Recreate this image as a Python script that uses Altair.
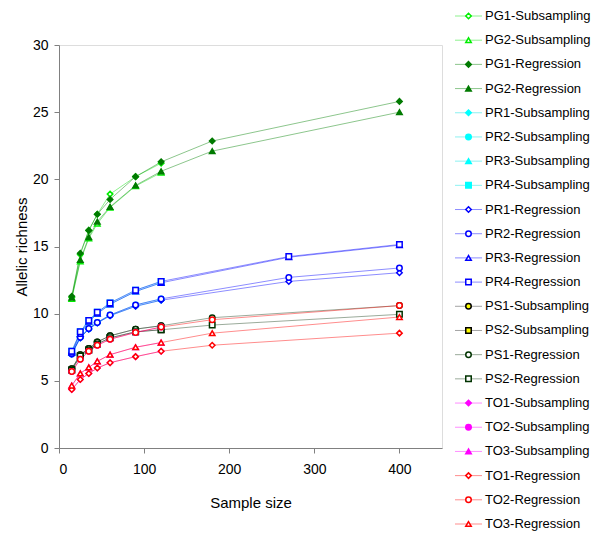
import altair as alt
import pandas as pd

# ---- data ----
series_names = [
    "PG1-Subsampling", "PG2-Subsampling", "PG1-Regression", "PG2-Regression",
    "PR1-Subsampling", "PR2-Subsampling", "PR3-Subsampling", "PR4-Subsampling",
    "PR1-Regression", "PR2-Regression", "PR3-Regression", "PR4-Regression",
    "PS1-Subsampling", "PS2-Subsampling", "PS1-Regression", "PS2-Regression",
    "TO1-Subsampling", "TO2-Subsampling", "TO3-Subsampling",
    "TO1-Regression", "TO2-Regression", "TO3-Regression",
]

x_sub = [15, 25, 35, 45, 60, 90, 120]
x_reg_pg = [15, 25, 35, 45, 60, 90, 120, 180, 400]
x_reg_pr = [15, 25, 35, 45, 60, 90, 120, 270, 400]
x_reg_ps = [15, 25, 35, 45, 60, 90, 120, 180, 400]
x_reg_to = [15, 25, 35, 45, 60, 90, 120, 180, 400]

pg1_sub = [11.2, 14.4, 16.2, 17.4, 18.9, 20.2, 21.2]
pg2_sub = [11.1, 13.9, 15.6, 16.7, 17.9, 19.5, 20.5]
pg1_reg = [11.3, 14.5, 16.2, 17.4, 18.5, 20.2, 21.3, 22.85, 25.8]
pg2_reg = [11.2, 14.0, 15.7, 16.85, 17.95, 19.55, 20.6, 22.1, 25.0]

pr1_sub = [7.0, 8.2, 8.85, 9.3, 9.85, 10.55, 11.0]
pr2_sub = [7.0, 8.25, 8.9, 9.35, 9.9, 10.65, 11.1]
pr3_sub = [7.1, 8.5, 9.4, 10.0, 10.7, 11.65, 12.3]
pr4_sub = [7.2, 8.65, 9.5, 10.1, 10.8, 11.75, 12.4]
pr1_reg = [7.0, 8.2, 8.85, 9.3, 9.85, 10.55, 11.0, 12.4, 13.05]
pr2_reg = [7.0, 8.25, 8.9, 9.35, 9.9, 10.65, 11.1, 12.7, 13.4]
pr3_reg = [7.1, 8.5, 9.4, 10.0, 10.7, 11.65, 12.3, 14.2, 15.1]
pr4_reg = [7.2, 8.65, 9.5, 10.1, 10.8, 11.75, 12.4, 14.25, 15.15]

ps1_sub = [5.9, 6.95, 7.4, 7.9, 8.35, 8.85, 9.1]
ps2_sub = [5.8, 6.85, 7.3, 7.75, 8.2, 8.65, 8.8]
ps1_reg = [5.9, 6.95, 7.4, 7.9, 8.35, 8.85, 9.1, 9.7, 10.6]
ps2_reg = [5.8, 6.85, 7.3, 7.75, 8.2, 8.65, 8.8, 9.15, 9.95]

to1_sub = [4.35, 5.1, 5.55, 5.95, 6.35, 6.8, 7.2]
to2_sub = [5.7, 6.6, 7.2, 7.65, 8.1, 8.6, 9.0]
to3_sub = [4.65, 5.55, 6.0, 6.45, 6.95, 7.5, 7.85]
to1_reg = [4.35, 5.1, 5.55, 5.95, 6.35, 6.8, 7.2, 7.65, 8.55]
to2_reg = [5.7, 6.6, 7.2, 7.65, 8.1, 8.6, 9.0, 9.55, 10.6]
to3_reg = [4.65, 5.55, 6.0, 6.45, 6.95, 7.5, 7.85, 8.55, 9.75]

series_values = [
    (x_sub, pg1_sub), (x_sub, pg2_sub), (x_reg_pg, pg1_reg), (x_reg_pg, pg2_reg),
    (x_sub, pr1_sub), (x_sub, pr2_sub), (x_sub, pr3_sub), (x_sub, pr4_sub),
    (x_reg_pr, pr1_reg), (x_reg_pr, pr2_reg), (x_reg_pr, pr3_reg), (x_reg_pr, pr4_reg),
    (x_sub, ps1_sub), (x_sub, ps2_sub), (x_reg_ps, ps1_reg), (x_reg_ps, ps2_reg),
    (x_sub, to1_sub), (x_sub, to2_sub), (x_sub, to3_sub),
    (x_reg_to, to1_reg), (x_reg_to, to2_reg), (x_reg_to, to3_reg),
]

# ---- styles ----
line_colors = [
    "#00DD00", "#00DD00", "#008000", "#008000",
    "#00E0E0", "#00E0E0", "#00E0E0", "#00E0E0",
    "#0000FF", "#0000FF", "#0000FF", "#0000FF",
    "#333333", "#333333", "#224422", "#224422",
    "#FF00FF", "#FF00FF", "#FF00FF",
    "#FF0000", "#FF0000", "#FF0000",
]
shapes = [
    "diamond", "triangle-up", "diamond", "triangle-up",
    "diamond", "circle", "triangle-up", "square",
    "diamond", "circle", "triangle-up", "square",
    "circle", "square", "circle", "square",
    "diamond", "circle", "triangle-up",
    "diamond", "circle", "triangle-up",
]
stroke_colors = [
    "#00EE00", "#00EE00", "#007A00", "#007A00",
    "#00FFFF", "#00FFFF", "#00FFFF", "#00FFFF",
    "#0000FF", "#0000FF", "#0000FF", "#0000FF",
    "#000000", "#000000", "#003300", "#003300",
    "#FF00FF", "#FF00FF", "#FF00FF",
    "#FF0000", "#FF0000", "#FF0000",
]
fill_colors = [
    "#FFFFFF", "#FFFFFF", "#007A00", "#007A00",
    "#00FFFF", "#00FFFF", "#00FFFF", "#00FFFF",
    "#FFFFFF", "#FFFFFF", "#FFFFFF", "#FFFFFF",
    "#FFFF00", "#FFFF00", "#FFFFFF", "#FFFFFF",
    "#FF00FF", "#FF00FF", "#FF00FF",
    "#FFFFFF", "#FFFFFF", "#FFFFFF",
]

rows = []
for i, (name, (xs, ys)) in enumerate(zip(series_names, series_values)):
    for xv, yv in zip(xs, ys):
        rows.append({"series": name, "order": i, "x": xv, "y": yv})
df = pd.DataFrame(rows)
legend_df = pd.DataFrame({"series": series_names, "order": list(range(len(series_names)))})

FONT = "Liberation Sans"

color_scale = alt.Scale(domain=series_names, range=line_colors)
stroke_scale = alt.Scale(domain=series_names, range=stroke_colors)
fill_scale = alt.Scale(domain=series_names, range=fill_colors)
shape_scale = alt.Scale(domain=series_names, range=shapes)

x_enc = alt.X("x:Q", title="Sample size",
              scale=alt.Scale(domain=[0, 450], nice=False),
              axis=alt.Axis(values=[0, 100, 200, 300, 400], grid=False,
                            labelFontSize=14, titleFontSize=15, labelPadding=9,
                            titlePadding=19, tickSize=5, domainColor="#808080",
                            tickColor="#808080", labelColor="#000", titleColor="#000",
                            titleFontWeight="normal", labelFont=FONT, titleFont=FONT))
y_enc = alt.Y("y:Q", title="Allelic richness",
              scale=alt.Scale(domain=[0, 30], nice=False),
              axis=alt.Axis(values=[0, 5, 10, 15, 20, 25, 30], grid=False,
                            labelFontSize=14, titleFontSize=15, labelPadding=6,
                            titlePadding=3, tickSize=5, domainColor="#808080",
                            tickColor="#808080", labelColor="#000", titleColor="#000",
                            titleFontWeight="normal", labelFont=FONT, titleFont=FONT))

lines = alt.Chart(df).mark_line(strokeWidth=1, opacity=0.45).encode(
    x=x_enc, y=y_enc,
    color=alt.Color("series:N", scale=color_scale, legend=None),
    detail="series:N",
    order=alt.Order("x:Q"),
)
points = alt.Chart(df).mark_point(size=30, strokeWidth=1.5, opacity=1, filled=False).encode(
    x=x_enc, y=y_enc,
    shape=alt.Shape("series:N", scale=shape_scale, legend=None),
    stroke=alt.Stroke("series:N", scale=stroke_scale, legend=None),
    fill=alt.Fill("series:N", scale=fill_scale, legend=None),
    order=alt.Order("order:Q"),
)
main = alt.layer(lines, points)

# legend drawn to the right of the plot, with its own point scale
ly = alt.Y("series:N", sort=series_names, axis=None,
           scale=alt.Scale(type="point", padding=0, range=[-29, 479]))
leg_rule = alt.Chart(legend_df).mark_rule(strokeWidth=1, opacity=0.45).encode(
    x=alt.value(396), x2=alt.value(423), y=ly,
    color=alt.Color("series:N", scale=color_scale, legend=None),
)
leg_pt = alt.Chart(legend_df).mark_point(size=30, strokeWidth=1.5, opacity=1).encode(
    x=alt.value(409.5), y=ly,
    shape=alt.Shape("series:N", scale=shape_scale, legend=None),
    stroke=alt.Stroke("series:N", scale=stroke_scale, legend=None),
    fill=alt.Fill("series:N", scale=fill_scale, legend=None),
)
leg_txt = alt.Chart(legend_df).mark_text(align="left", baseline="middle", fontSize=13,
                                         font=FONT, color="#000").encode(
    x=alt.value(426), y=ly, text="series:N",
)
legend = alt.layer(leg_rule, leg_pt, leg_txt)

chart = alt.layer(main, legend).resolve_scale(
    y="independent"
).properties(
    width=383, height=403,
    padding={"left": 6, "top": 2, "right": 0, "bottom": 0},
).configure_view(stroke="#A0A0A0", strokeWidth=1).configure(background="white")

chart.save("out.html", embed_options={"renderer": "svg", "actions": False})
